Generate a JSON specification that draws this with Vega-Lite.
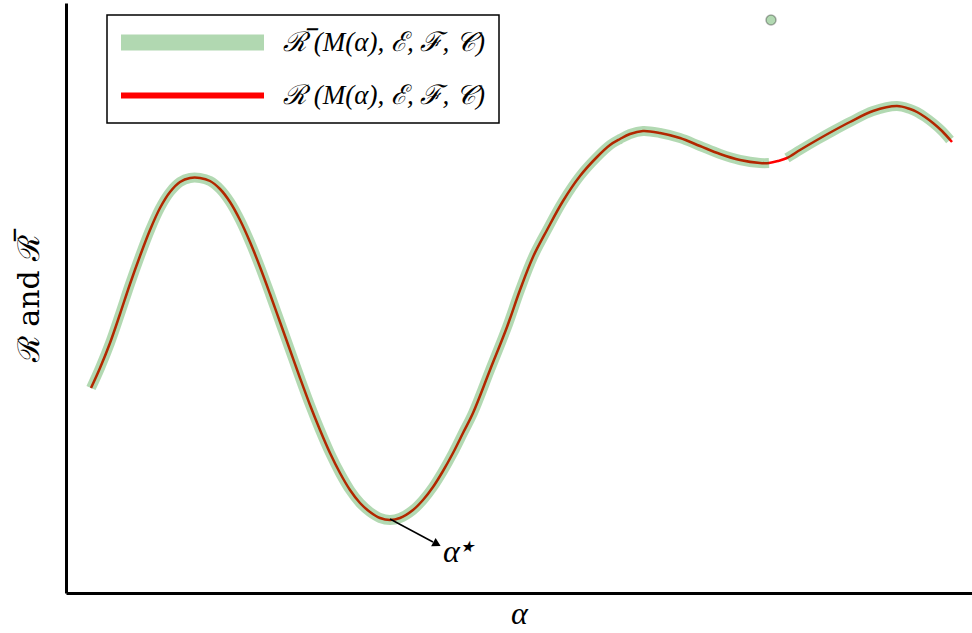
{
  "$schema": "https://vega.github.io/schema/vega-lite/v6.json",
  "width": 906,
  "height": 590,
  "autosize": {"type": "none"},
  "padding": {"left": 66, "top": 3, "right": 0, "bottom": 40},
  "background": "white",
  "config": {
    "view": {"stroke": null},
    "axis": {"ticks": false, "labels": false, "grid": false, "domainColor": "black", "domainWidth": 3, "titleColor": "black", "titleFont": "DejaVu Serif", "titleFontWeight": "normal"}
  },
  "datasets": {
    "red": [
      {"a":25,"v":205},{"a":34,"v":225},{"a":44,"v":250},{"a":54,"v":279},{"a":64,"v":309},{"a":74,"v":337},{"a":84,"v":363},{"a":94,"v":385},{"a":104,"v":401},{"a":114,"v":411},{"a":124,"v":415},{"a":134,"v":415},{"a":144,"v":412},{"a":154,"v":404},{"a":164,"v":391},{"a":174,"v":373},{"a":184,"v":351},{"a":194,"v":326},{"a":204,"v":299},{"a":214,"v":271},{"a":224,"v":243},{"a":234,"v":215},{"a":244,"v":188},{"a":254,"v":163},{"a":264,"v":140},{"a":274,"v":120},{"a":284,"v":103},{"a":294,"v":90},{"a":304,"v":81},{"a":314,"v":75},{"a":324,"v":73},{"a":334,"v":75},{"a":347,"v":83},{"a":357,"v":93},{"a":367,"v":106},{"a":377,"v":122},{"a":387,"v":140},{"a":397,"v":160},{"a":407,"v":180},{"a":424,"v":223},{"a":441,"v":266},{"a":454,"v":303},{"a":467,"v":336},{"a":481,"v":363},{"a":497,"v":392},{"a":514,"v":417},{"a":531,"v":436},{"a":544,"v":448},{"a":554,"v":454},{"a":564,"v":459},{"a":577,"v":462},{"a":594,"v":460},{"a":614,"v":455},{"a":634,"v":447},{"a":654,"v":439},{"a":674,"v":433},{"a":694,"v":430},{"a":703,"v":430},{"a":712,"v":432},{"a":721,"v":435},{"a":734,"v":443},{"a":751,"v":453},{"a":767,"v":462},{"a":784,"v":471},{"a":807,"v":482},{"a":831,"v":487},{"a":844,"v":484},{"a":851,"v":481},{"a":859,"v":476},{"a":867,"v":470},{"a":876,"v":462},{"a":886,"v":451}
    ],
    "green": [
      {"seg":1,"a":25,"v":205},{"seg":1,"a":34,"v":225},{"seg":1,"a":44,"v":250},{"seg":1,"a":54,"v":279},{"seg":1,"a":64,"v":309},{"seg":1,"a":74,"v":337},{"seg":1,"a":84,"v":363},{"seg":1,"a":94,"v":385},{"seg":1,"a":104,"v":401},{"seg":1,"a":114,"v":411},{"seg":1,"a":124,"v":415},{"seg":1,"a":134,"v":415},{"seg":1,"a":144,"v":412},{"seg":1,"a":154,"v":404},{"seg":1,"a":164,"v":391},{"seg":1,"a":174,"v":373},{"seg":1,"a":184,"v":351},{"seg":1,"a":194,"v":326},{"seg":1,"a":204,"v":299},{"seg":1,"a":214,"v":271},{"seg":1,"a":224,"v":243},{"seg":1,"a":234,"v":215},{"seg":1,"a":244,"v":188},{"seg":1,"a":254,"v":163},{"seg":1,"a":264,"v":140},{"seg":1,"a":274,"v":120},{"seg":1,"a":284,"v":103},{"seg":1,"a":294,"v":90},{"seg":1,"a":304,"v":81},{"seg":1,"a":314,"v":75},{"seg":1,"a":324,"v":73},{"seg":1,"a":334,"v":75},{"seg":1,"a":347,"v":83},{"seg":1,"a":357,"v":93},{"seg":1,"a":367,"v":106},{"seg":1,"a":377,"v":122},{"seg":1,"a":387,"v":140},{"seg":1,"a":397,"v":160},{"seg":1,"a":407,"v":180},{"seg":1,"a":424,"v":223},{"seg":1,"a":441,"v":266},{"seg":1,"a":454,"v":303},{"seg":1,"a":467,"v":336},{"seg":1,"a":481,"v":363},{"seg":1,"a":497,"v":392},{"seg":1,"a":514,"v":417},{"seg":1,"a":531,"v":436},{"seg":1,"a":544,"v":448},{"seg":1,"a":554,"v":454},{"seg":1,"a":564,"v":459},{"seg":1,"a":577,"v":462},{"seg":1,"a":594,"v":460},{"seg":1,"a":614,"v":455},{"seg":1,"a":634,"v":447},{"seg":1,"a":654,"v":439},{"seg":1,"a":674,"v":433},{"seg":1,"a":694,"v":430},{"seg":1,"a":703,"v":430},
      {"seg":2,"a":721,"v":435},{"seg":2,"a":734,"v":443},{"seg":2,"a":751,"v":453},{"seg":2,"a":767,"v":462},{"seg":2,"a":784,"v":471},{"seg":2,"a":807,"v":482},{"seg":2,"a":831,"v":487},{"seg":2,"a":844,"v":484},{"seg":2,"a":851,"v":481},{"seg":2,"a":859,"v":476},{"seg":2,"a":867,"v":470},{"seg":2,"a":876,"v":462},{"seg":2,"a":884,"v":453}
    ],
    "outlier": [{"a":705,"v":573}],
    "arrow": [{"a":324,"v":74,"a2":367,"v2":51}],
    "head": [{"a":371,"v":49}],
    "note": [{"a":377,"v":31,"t":"α"},{"a":394,"v":41,"t":"★"}]
  },
  "layer": [
    {
      "data": {"name": "red"},
      "transform": [{"calculate": "'R'", "as": "series"}],
      "mark": {"type": "line", "strokeWidth": 2.5, "interpolate": "catmull-rom", "strokeCap": "butt"},
      "encoding": {
        "x": {"field": "a", "type": "quantitative", "scale": {"domain": [0, 906], "nice": false, "zero": false}, "axis": {"title": "α", "titleFontSize": 32, "titleFontStyle": "italic", "titleFont": "Liberation Serif", "titlePadding": 5}},
        "y": {"field": "v", "type": "quantitative", "scale": {"domain": [0, 590], "nice": false, "zero": false}, "axis": {"title": "ℛ and ℛ̅", "titleFontSize": 30, "titlePadding": 22}},
        "color": {
          "field": "series", "type": "nominal",
          "scale": {"domain": ["barR", "R"], "range": ["#008000", "#ff0000"]},
          "legend": {
            "orient": "none", "legendX": 41, "legendY": 12, "title": null,
            "symbolType": "stroke", "symbolSize": 20449,
            "labelFont": "Liberation Serif", "labelFontSize": 27, "labelFontStyle": "italic", "labelColor": "black",
            "labelOffset": 19, "labelLimit": 0, "padding": 14, "rowPadding": 6,
            "strokeColor": "black", "fillColor": "white", "cornerRadius": 0,
            "labelExpr": "datum.value == 'barR' ? 'ℛ̅ (M(α), ℰ, ℱ, 𝒞)' : 'ℛ (M(α), ℰ, ℱ, 𝒞)'",
            "encode": {
              "legend": {"update": {"strokeWidth": {"value": 1.5}}},
              "symbols": {"update": {"x": {"value": 71.5}, "strokeWidth": {"signal": "datum.value == 'barR' ? 16 : 6"}, "opacity": {"signal": "datum.value == 'barR' ? 0.3 : 1"}, "strokeCap": {"value": "butt"}}},
              "labels": {"update": {"x": {"value": 162}}}
            }
          }
        }
      }
    },
    {
      "data": {"name": "green"},
      "transform": [{"calculate": "'barR'", "as": "series"}],
      "mark": {"type": "line", "strokeWidth": 10, "opacity": 0.3, "interpolate": "catmull-rom", "strokeCap": "butt"},
      "encoding": {
        "x": {"field": "a", "type": "quantitative"},
        "y": {"field": "v", "type": "quantitative"},
        "detail": {"field": "seg", "type": "nominal"},
        "color": {"field": "series", "type": "nominal"}
      }
    },
    {
      "data": {"name": "outlier"},
      "mark": {"type": "point", "filled": true, "fill": "#008000", "fillOpacity": 0.3, "stroke": "black", "strokeOpacity": 0.3, "strokeWidth": 1.5, "size": 100, "opacity": 1},
      "encoding": {
        "x": {"field": "a", "type": "quantitative"},
        "y": {"field": "v", "type": "quantitative"}
      }
    },
    {
      "data": {"name": "arrow"},
      "mark": {"type": "rule", "color": "black", "strokeWidth": 1.5},
      "encoding": {
        "x": {"field": "a", "type": "quantitative"},
        "y": {"field": "v", "type": "quantitative"},
        "x2": {"field": "a2"},
        "y2": {"field": "v2"}
      }
    },
    {
      "data": {"name": "head"},
      "mark": {"type": "point", "shape": "triangle-right", "filled": true, "color": "black", "size": 90, "angle": 28, "opacity": 1},
      "encoding": {
        "x": {"field": "a", "type": "quantitative"},
        "y": {"field": "v", "type": "quantitative"}
      }
    },
    {
      "data": {"name": "note"},
      "mark": {"type": "text", "align": "left", "baseline": "alphabetic", "font": "Liberation Serif", "fontStyle": "italic", "fontSize": 32, "color": "black"},
      "encoding": {
        "x": {"field": "a", "type": "quantitative"},
        "y": {"field": "v", "type": "quantitative"},
        "text": {"field": "t"},
        "size": {"condition": {"test": "datum.t == '★'", "value": 16}, "value": 32}
      }
    }
  ]
}
